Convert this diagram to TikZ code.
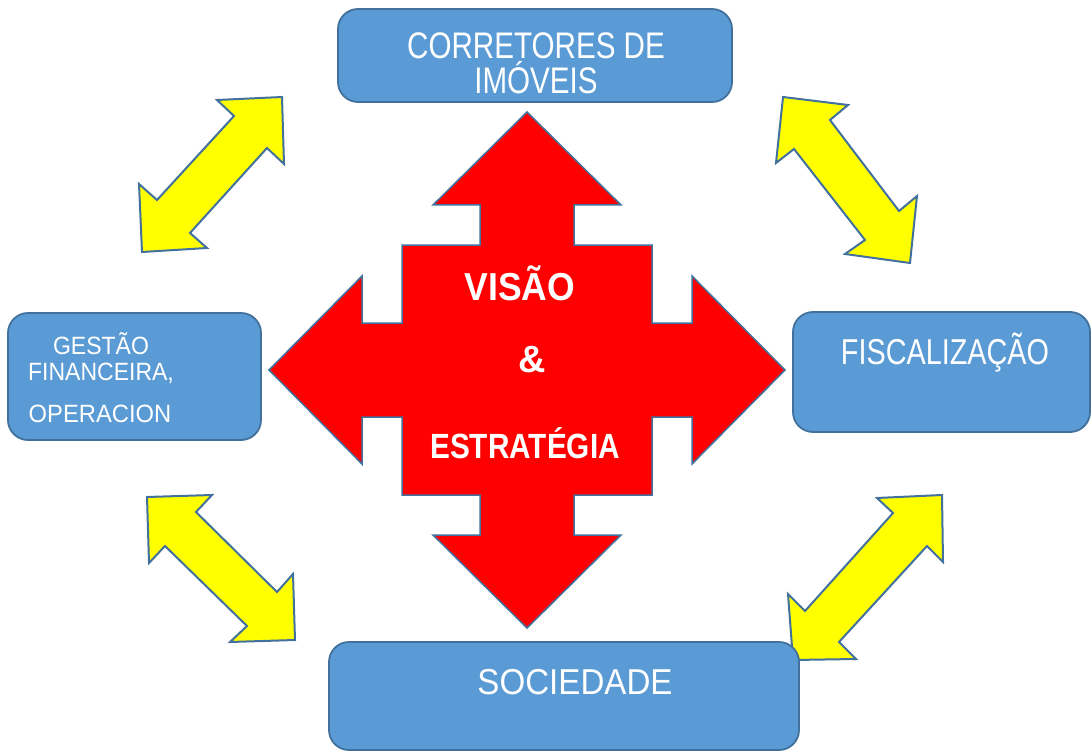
\documentclass[tikz,border=0pt]{standalone}
\usepackage{fontspec}
\setmainfont{Liberation Sans}
\definecolor{boxfill}{HTML}{5B9BD5}
\definecolor{boxline}{HTML}{41719C}
\definecolor{arrowyellow}{HTML}{FFFF00}
\definecolor{arrowred}{HTML}{FF0000}

\begin{document}
\begin{tikzpicture}[x=1pt,y=-1pt,
    box/.style={draw=boxline,fill=boxfill,line width=1.8pt,rounded corners=20pt},
    txt/.style={text=white,anchor=base,inner sep=0pt},
    yarrow/.style={draw=boxline,fill=arrowyellow,line width=2pt,line join=miter},
    rarrow/.style={draw=boxline,fill=arrowred,line width=1.5pt,line join=miter}]

  \useasboundingbox (0,0) rectangle (1091,751);

  % yellow double arrows
  \filldraw[yarrow] (282,97) -- (284,164) -- (267,148) -- (190,233) -- (207,248)
        -- (142,252) -- (139,184) -- (157,200) -- (234,116) -- (217,100) -- cycle;
  \filldraw[yarrow] (783,97) -- (848,105) -- (830,120) -- (899,211) -- (917,196)
        -- (910,263) -- (845,254) -- (865,240) -- (794,149) -- (776,163) -- cycle;
  \filldraw[yarrow] (147,497) -- (212,495) -- (196,512) -- (277,592) -- (293,574)
        -- (295,640) -- (230,642) -- (247,626) -- (165,546) -- (149,563) -- cycle;
  \filldraw[yarrow] (942,495) -- (943,562) -- (927,546) -- (839,642) -- (856,659)
        -- (793,660) -- (788,594) -- (805,611) -- (893,513) -- (877,498) -- cycle;

  % boxes
  \node[box,minimum width=394,minimum height=93]  (corretores) at (535,55.5) {};
  \node[box,minimum width=253,minimum height=127] (gestao)     at (134.5,376.5) {};
  \node[box,minimum width=297,minimum height=120] (fiscal)     at (941.5,372) {};
  \node[box,minimum width=470,minimum height=108] (sociedade)  at (564,696) {};

  % red four-way arrow
  \begin{scope}[shift={(527,370)}]
    \filldraw[rarrow] (0,-258) -- (94,-165) -- (47,-165) -- (47,-125) -- (125,-125)
        -- (125,-47) -- (165,-47) -- (165,-94) -- (258,0) -- (165,94) -- (165,47)
        -- (125,47) -- (125,125) -- (47,125) -- (47,165) -- (94,165) -- (0,258)
        -- (-94,165) -- (-47,165) -- (-47,125) -- (-125,125) -- (-125,47)
        -- (-165,47) -- (-165,94) -- (-258,0) -- (-165,-94) -- (-165,-47)
        -- (-125,-47) -- (-125,-125) -- (-47,-125) -- (-47,-165) -- (-94,-165)
        -- cycle;
  \end{scope}

  % texts
  \node[txt,font=\fontsize{37}{37}\selectfont,xscale=0.8,text depth=0pt] (corr1) at (536,59) {CORRETORES DE};
  \node[txt,font=\fontsize{37}{37}\selectfont,xscale=0.8] (corr2) at (536,94) {IMÓVEIS};
  \node[txt,font=\fontsize{25}{25}\selectfont,xscale=0.92] (gest1) at (101,354) {GESTÃO};
  \node[txt,font=\fontsize{25}{25}\selectfont,xscale=0.92] (gest2) at (101,380) {FINANCEIRA,};
  \node[txt,font=\fontsize{25}{25}\selectfont,xscale=0.95] (gest3) at (100,422) {OPERACION};
  \node[txt,font=\fontsize{36}{36}\selectfont,xscale=0.8]  (fisc)  at (945,364) {FISCALIZAÇÃO};
  \node[txt,font=\fontsize{36}{36}\selectfont,xscale=0.92] (soc)   at (575,694) {SOCIEDADE};
  \node[txt,font=\fontsize{39}{39}\selectfont\bfseries,xscale=0.91] (visao) at (520,300) {VISÃO};
  \node[txt,font=\fontsize{38}{38}\selectfont\bfseries]             (amp)   at (532,372) {\&};
  \node[txt,font=\fontsize{35}{35}\selectfont\bfseries,xscale=0.85] (estr)  at (525,458) {ESTRATÉGIA};

\end{tikzpicture}
\end{document}
